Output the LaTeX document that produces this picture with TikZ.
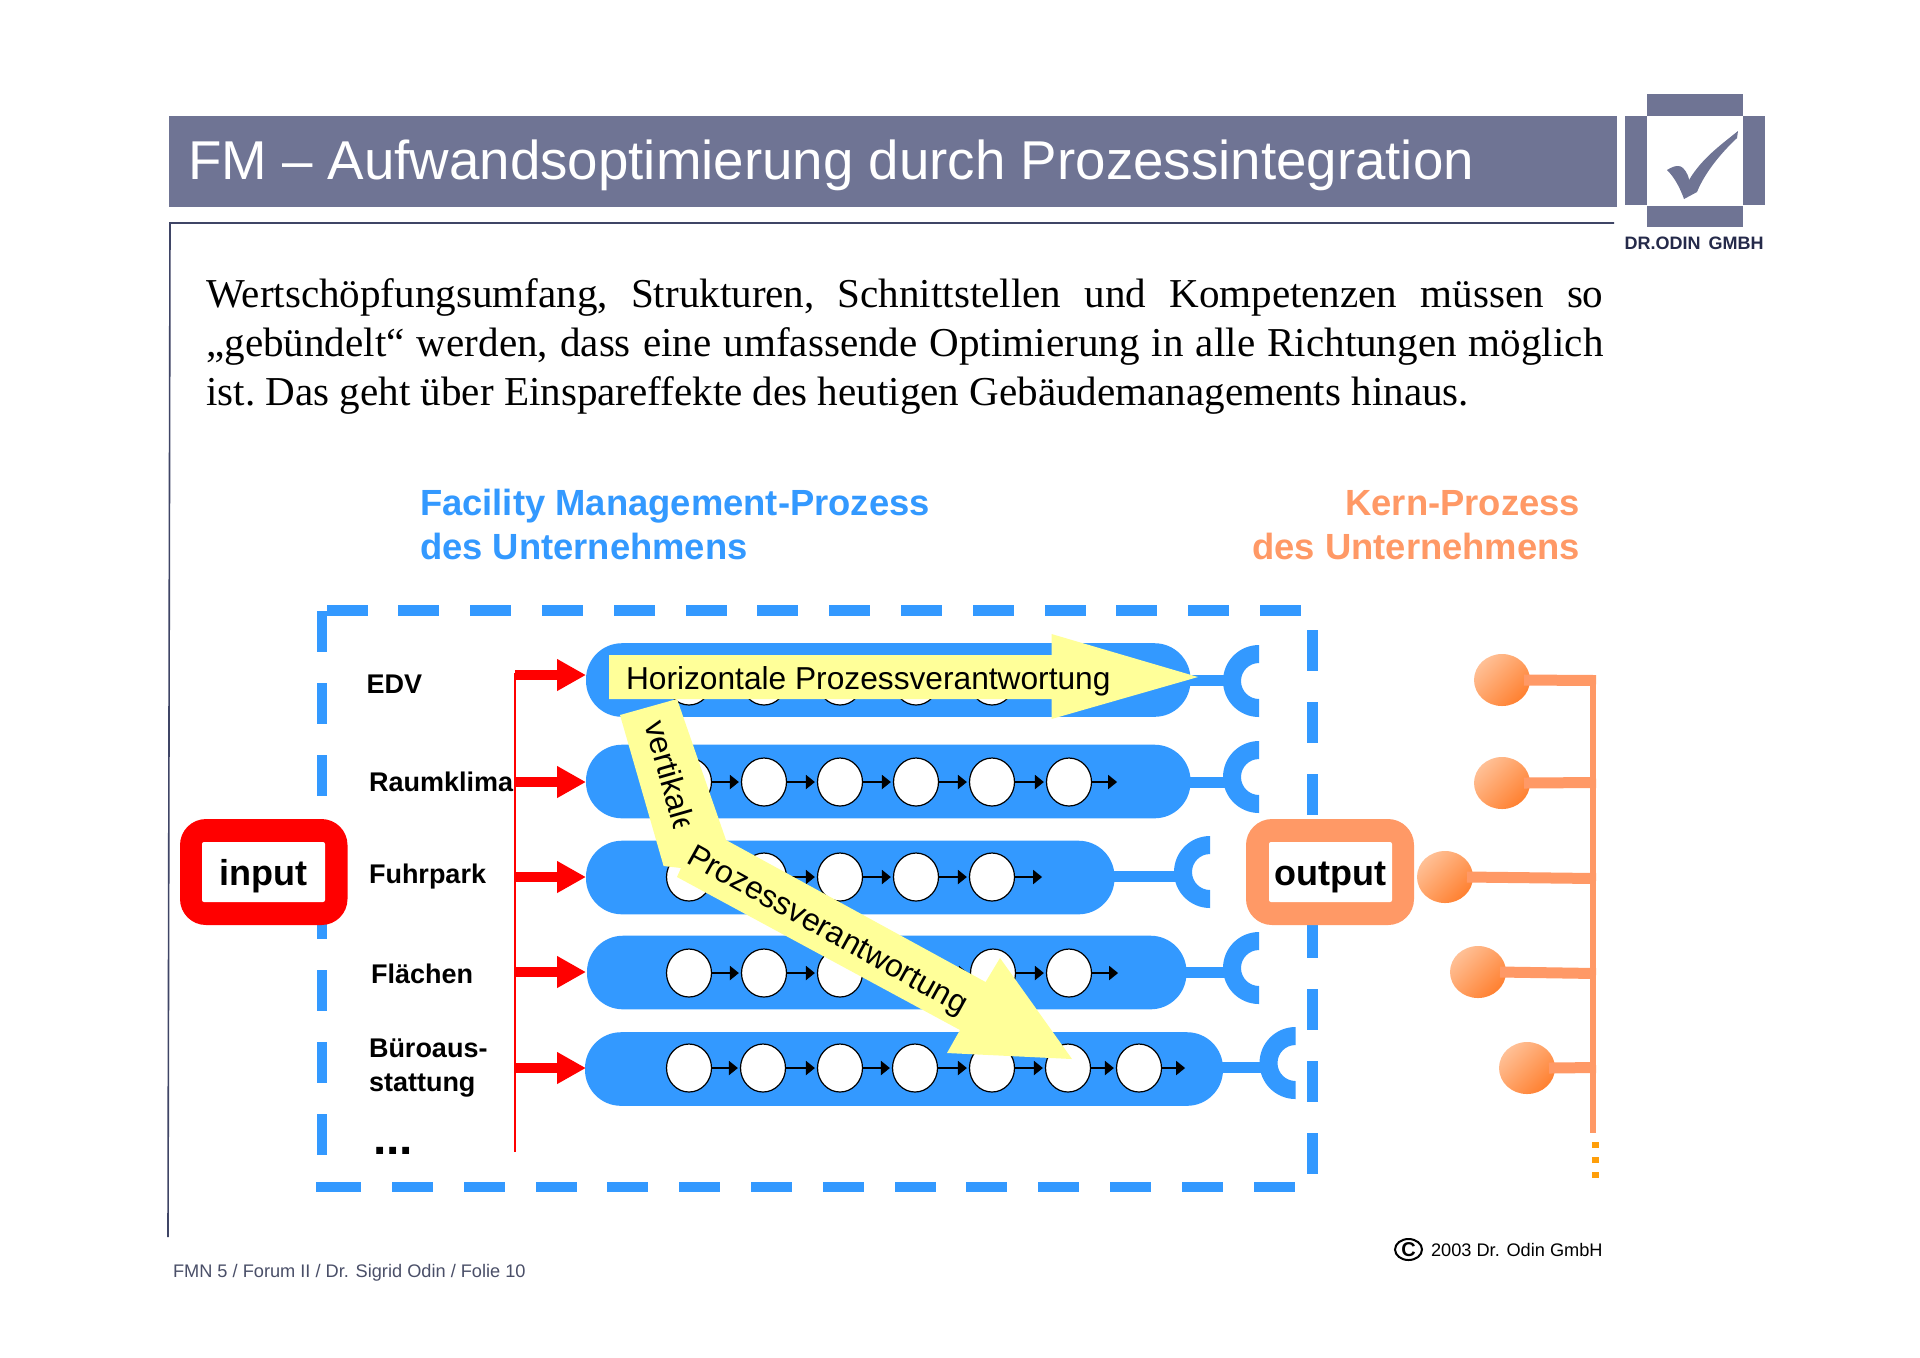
\documentclass[tikz,border=0pt]{standalone}
\usepackage{fontspec}
\setmainfont{Liberation Sans}
\newfontfamily\serifbody{Liberation Serif}
\usetikzlibrary{arrows.meta,shapes.geometric}
\definecolor{slate}{HTML}{6F7494}
\definecolor{slateline}{HTML}{3F4566}
\definecolor{slatetext}{HTML}{252A4A}
\definecolor{footgray}{HTML}{4A4F68}
\definecolor{fmblue}{HTML}{3399FF}
\definecolor{coreorange}{HTML}{FF9966}
\definecolor{ballhi}{HTML}{FFC096}
\definecolor{balllo}{HTML}{FF8030}
\definecolor{dotorange}{HTML}{FF9F0A}
\definecolor{paleyellow}{HTML}{FFFF99}
\newcommand{\fpx}[1]{\fontsize{\dimexpr#1pt/2\relax}{\dimexpr#1pt*6/10\relax}\selectfont}
\tikzset{
  txt/.style={inner sep=0pt,outer sep=0pt,anchor=base west},
  lab/.style={txt,font=\fpx{27}\bfseries},
  head/.style={inner sep=0pt,outer sep=0pt,font=\fpx{36.4}\bfseries},
  pill/.style={fill=fmblue,inner sep=0pt,outer sep=0pt,rounded corners=18pt,minimum height=36.8pt},
  station/.style={ellipse,draw=black,line width=0.6pt,fill=white,inner sep=0pt,outer sep=0pt,minimum width=22.5pt,minimum height=24pt},
  flow/.style={draw=black,line width=1pt,shorten >=1.3pt,-{Triangle[length=4.5pt,width=7pt]}},
  redin/.style={draw=red,line width=5pt,-{Triangle[length=14.5pt,width=15pt]}},
  stem/.style={draw=fmblue,line width=5.5pt},
  ball/.style={ellipse,shading=axis,top color=ballhi,bottom color=balllo,shading angle=45,inner sep=0pt,outer sep=0pt,minimum width=28pt,minimum height=26pt},
  branch/.style={draw=coreorange,line width=5.5pt},
  outerbox/.style={inner sep=0pt,outer sep=0pt,rounded corners=13pt,minimum height=53pt},
  innerbox/.style={fill=white,inner sep=0pt,outer sep=0pt,rounded corners=1pt,minimum height=30pt,text height=15pt,text depth=2pt,font=\fpx{36}\bfseries},
  dashbar/.style={fill=fmblue},
  slatebar/.style={fill=slate},
  yellowtext/.style={txt,font=\fpx{31.7}}
}
\begin{document}
\begin{tikzpicture}[x=0.5pt,y=-0.5pt]
\useasboundingbox (0,0) rectangle (1920,1357);
\fill[white] (0,0) rectangle (1920,1357);
% header
\fill[slatebar] (169,116) rectangle (1617,207);
\node[txt,text=white,font=\fpx{54.7}] (title) at (188,179) {FM – Aufwandsoptimierung durch Prozessintegration};
\draw[slateline,line width=0.8pt] (1614,223) -- (170,223) -- (168,1237);
% logo
\fill[slatebar] (1647,94) rectangle (1743,116);
\fill[slatebar] (1647,206) rectangle (1743,227);
\fill[slatebar] (1625,116) rectangle (1647,205);
\fill[slatebar] (1743,116) rectangle (1765,205);
\fill[slate] (1667,170) .. controls (1675,165) and (1680,165) .. (1683,168) .. controls (1687,172) and (1689,178) .. (1689,180) .. controls (1702,158) and (1722,144) .. (1738,131) -- (1737,138) .. controls (1722,152) and (1705,172) .. (1697,192) -- (1684,199) .. controls (1680,188) and (1675,178) .. cycle;
\node[font=\fpx{18}\bfseries,text=slatetext,inner sep=0pt] (brand) at (1694,243) {DR.ODIN\, GMBH};
% paragraph
\node[anchor=north west,inner sep=0pt,text width=698.5pt,align=justify,font=\serifbody\frenchspacing\fontsize{20.53pt}{24.5pt}\selectfont] (para) at (206,278)
{Wertschöpfungsumfang, Strukturen, Schnittstellen und Kompetenzen müssen so\linebreak „gebündelt“ werden, dass eine umfassende Optimierung in alle Richtungen möglich\linebreak ist. Das geht über Einspareffekte des heutigen Gebäudemanagements hinaus.};
% headings
\node[head,text=fmblue,anchor=base west] (fm1) at (420,515) {Facility Management-Prozess};
\node[head,text=fmblue,anchor=base west] (fm2) at (420,559) {des Unternehmens};
\node[head,text=coreorange,anchor=base east] (kp1) at (1580,515) {Kern-Prozess};
\node[head,text=coreorange,anchor=base east] (kp2) at (1580,559) {des Unternehmens};
% dashed frame
\foreach \k in {0,...,13} {\fill[dashbar] ({326.5+71.8*\k},605) rectangle ({367.5+71.8*\k},616);}
\foreach \k in {0,...,13} {\fill[dashbar] ({320.2+71.8*\k},1182) rectangle ({361.2+71.8*\k},1192);}
\fill[dashbar] (316,1182) rectangle (322,1192);
\foreach \k in {0,...,7} {\fill[dashbar] (317,{611+71.8*\k}) rectangle (327,{652+71.8*\k});}
\foreach \k in {0,...,7} {\fill[dashbar] (1307,{630+71.8*\k}) rectangle (1318,{671+71.8*\k});}
% pills
\foreach \i/\l/\r/\t/\b in {1/586/1190.5/643/717,2/586/1190.5/745/818,3/586/1114.5/841/914,4/587/1186.5/936/1009,5/585/1223/1032/1106}
  {\node[pill,minimum width={(\r-\l)*0.5pt}] (p\i) at ({(\l+\r)/2},{(\t+\b)/2}) {};}
% stems and cups
\foreach \r/\sy/\sx/\cx/\cy in {1190/680.5/1226/1259/681,1190/782.5/1226/1259/777,1114/876.5/1178/1210/872,1186/972/1226/1259/968,1222/1067.5/1262/1295.5/1063}
  {\draw[stem] (\r,\sy) -- (\sx,\sy);
   \fill[fmblue] (\cx,\cy-36) arc[start angle=90,end angle=270,radius=18pt] -- (\cx,\cy+18) arc[start angle=270,end angle=90,radius=9pt] -- cycle;}
% stations
\foreach \n/\x in {1/689,2/764,3/840,4/916,5/992}{\node[station] (a\n) at (\x,681) {};}
\foreach \n/\x in {1/689,2/764,3/840,4/916,5/992,6/1069}{\node[station] (b\n) at (\x,782) {};}
\foreach \n/\x in {1/689,2/764,3/840,4/916,5/992}{\node[station] (c\n) at (\x,877) {};}
\foreach \n/\x in {1/689,2/764,3/840,4/916,5/993,6/1069}{\node[station] (d\n) at (\x,973) {};}
\foreach \n/\x in {1/689,2/763,3/840,4/915,5/992,6/1068,7/1139}{\node[station] (e\n) at (\x,1068) {};}
\foreach \m/\n in {1/2,2/3,3/4,4/5}{\draw[flow] (a\m) -- (a\n);}
\foreach \m/\n in {1/2,2/3,3/4,4/5,5/6}{\draw[flow] (b\m) -- (b\n);\draw[flow] (d\m) -- (d\n);}
\foreach \m/\n in {1/2,2/3,3/4,4/5}{\draw[flow] (c\m) -- (c\n);}
\foreach \m/\n in {1/2,2/3,3/4,4/5,5/6,6/7}{\draw[flow] (e\m) -- (e\n);}
\coordinate (bend) at (1119.7,782);\coordinate (cend) at (1044.7,877);\coordinate (dend) at (1120.7,973);\coordinate (eend) at (1187.7,1068);
\draw[flow] (b6) -- (bend);\draw[flow] (c5) -- (cend);\draw[flow] (d6) -- (dend);\draw[flow] (e7) -- (eend);
% red feed
\coordinate (feedtop) at (515,673);\coordinate (feedbot) at (515,1152);
\draw[red,line width=1pt] (feedtop) -- (feedbot);
\foreach \i/\y in {1/675,2/782,3/877,4/972,5/1068}{
  \coordinate (rs\i) at (515,\y);\coordinate (re\i) at (586,\y);
  \draw[redin] (rs\i) -- (re\i);}
% labels
\node[lab] (edv) at (366.5,693) {EDV};
\node[lab] (raum) at (369,791) {Raumklima};
\node[lab] (fuhr) at (369,883) {Fuhrpark};
\node[lab] (flae) at (371,983) {Flächen};
\node[lab] (buero1) at (369,1057) {Büroaus-};
\node[lab] (buero2) at (369,1091) {stattung};
\node[txt,font=\fpx{48}\bfseries] (more) at (373,1154) {...};
% input / output
\node[outerbox,fill=red,minimum width=83.75pt] (inbox) at (263.75,872) {};
\node[innerbox,minimum width=61.5pt] (input) at (263.5,872) {input};
\node[outerbox,fill=coreorange,minimum width=84pt] (outbox) at (1330,872) {};
\node[innerbox,minimum width=61.5pt] (output) at (1330.5,872) {output};
% core process
\draw[coreorange,line width=3pt] (1593,675) -- (1593,1133);
\foreach \i/\x/\y/\e in {1/1502/680/680.5,2/1502/783/782.5,3/1445/877/878.5,4/1478/972/973.5,5/1527/1068/1067.5}{
  \node[ball] (ball\i) at (\x,\y) {};
  \coordinate (bus\i) at (1596,\e);
  \draw[branch] ([xshift=-3pt]ball\i.east) -- (bus\i);}
\foreach \y in {1142,1157,1172}{\fill[dotorange] (1592,\y) rectangle (1599,\y+6);}
% yellow arrows
\fill[paleyellow] (620,715) -- (677,699) -- (726,840) -- (985.6,982) -- (1000,958) -- (1072,1059) -- (947,1053) -- (960,1030) -- (677,877) -- (681,868) -- (663.6,866) -- cycle;
\fill[paleyellow] (609,655) -- (1051.5,655) -- (1051.5,634) -- (1198,677) -- (1051.5,719) -- (1051.5,699) -- (609,699) -- cycle;
\node[yellowtext] (hor) at (626,689) {Horizontale Prozessverantwortung};
\node[yellowtext,rotate=-74] (ver) at (644,724) {vertikale};
\fill[paleyellow] (711,818) -- (657,834) -- (662.5,853) -- (716.5,837) -- cycle;
\node[yellowtext,rotate=-29] (pro) at (685,862) {Prozessverantwortung};
% footer
\node[txt,text=footgray,font=\fpx{18.2}] (foot) at (173,1277) {FMN 5 / Forum II / Dr. Sigrid Odin / Folie 10};
\node[ellipse,draw=black,line width=1pt,inner sep=0pt,minimum width=13.5pt,minimum height=10.5pt,font=\fpx{20}\bfseries] (copy) at (1408.5,1249.5) {C};
\node[txt,font=\fpx{18.2}] (year) at (1431,1256) {2003 Dr. Odin GmbH};
\end{tikzpicture}
\end{document}
